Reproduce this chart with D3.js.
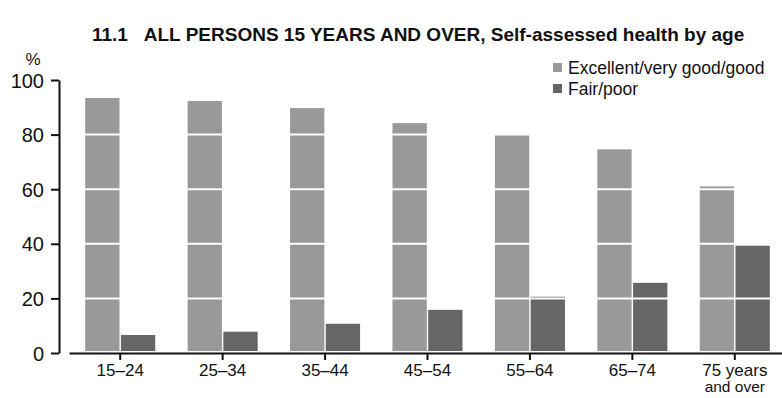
<!DOCTYPE html>
<html>
<head>
<meta charset="utf-8">
<script src="https://cdn.jsdelivr.net/npm/d3@7"></script>
<style>
  body { margin: 0; background: #fff; }
  text { font-family: "Liberation Sans", Arial, sans-serif; fill: #111; }
  .title { font-weight: bold; font-size: 19px; }
  .axis text { font-size: 17px; }
  .yaxis text { font-size: 20px; }
  .legend text { font-size: 17.5px; }
</style>
</head>
<body>
<div id="chart"></div>
<script>
"use strict";

// Data
// ----

var ages = ["15–24", "25–34", "35–44", "45–54", "55–64", "65–74", "75 years\nand over"];
var series = ["Excellent/very good/good", "Fair/poor"];
var good = [93.4, 92.3, 89.7, 84.2, 79.9, 74.6, 61.0];
var fair = [6.6, 7.8, 10.7, 15.8, 20.6, 25.7, 39.3];
var yTicks = [0, 20, 40, 60, 80, 100];

var colors = ["#999999", "#666666"];


// Box sizing
// ----------

var width = 782, height = 398;

var svg = d3.select("#chart").append("svg")
    .attr("width", width)
    .attr("height", height);

var x0 = d3.scaleBand()
    .domain(ages)
    .range([69, 786])
    .paddingInner(0.316)
    .paddingOuter(0.158);

var x1 = d3.scaleBand()
    .domain(series)
    .range([0, x0.bandwidth()])
    .paddingInner(0.04);

var y = d3.scaleLinear()
    .domain([0, 100])
    .range([353, 80]);


// Title

svg.append("text")
    .attr("class", "title")
    .attr("x", 92)
    .attr("y", 41)
    .text("11.1\u00a0\u00a0\u00a0ALL PERSONS 15 YEARS AND OVER, Self-assessed health by age");


// Bars
// ----

var rows = ages.map(function(a, i) {
  return {age: a, values: [good[i], fair[i]]};
});

svg.append("g").selectAll("g")
    .data(rows)
  .enter().append("g")
    .attr("transform", function(d) { return "translate(" + x0(d.age) + ",0)"; })
  .selectAll("rect")
    .data(function(d) { return d.values.map(function(v, j) { return {key: series[j], v: v, j: j}; }); })
  .enter().append("rect")
    .attr("x", function(d) { return x1(d.key); })
    .attr("width", x1.bandwidth())
    .attr("y", function(d) { return y(d.v); })
    .attr("height", function(d) { return y(0) - 2 - y(d.v); })
    .attr("fill", function(d) { return colors[d.j]; });


// White gridlines over the bars

svg.append("g").selectAll("line")
    .data(yTicks.filter(function(t) { return t > 0 && t < 100; }))
  .enter().append("line")
    .attr("x1", 70)
    .attr("x2", width)
    .attr("y1", function(d) { return y(d); })
    .attr("y2", function(d) { return y(d); })
    .attr("stroke", "#fff")
    .attr("stroke-width", 2);


// Axes
// ----

var yAxis = svg.append("g")
    .attr("class", "axis yaxis")
    .attr("transform", "translate(59,0)")
    .call(d3.axisLeft(y).tickValues(yTicks).tickSize(8).tickSizeOuter(0).tickPadding(7));

yAxis.selectAll("path, line").attr("stroke", "#111").attr("stroke-width", 2);
yAxis.selectAll("text").attr("dy", "0.35em");

var xAxis = svg.append("g")
    .attr("class", "axis")
    .attr("transform", "translate(0," + y(0) + ")")
    .call(d3.axisBottom(x0).tickSize(7).tickSizeOuter(0).tickPadding(4).tickFormat(""));

xAxis.selectAll("path, line").attr("stroke", "#111").attr("stroke-width", 2);

xAxis.selectAll(".tick").append("text")
    .attr("fill", "#111")
    .attr("text-anchor", "middle")
    .attr("y", 23)
    .selectAll("tspan")
    .data(function(d) { return d.split("\n"); })
  .enter().append("tspan")
    .attr("x", 0)
    .attr("dy", function(d, i) { return i ? "1em" : 0; })
    .style("font-size", function(d, i) { return i ? "15.5px" : null; })
    .text(function(d) { return d; });

svg.append("text")
    .attr("x", 33)
    .attr("y", 65)
    .attr("text-anchor", "middle")
    .style("font-size", "17px")
    .text("%");


// Legend
// ------

var legend = svg.append("g")
    .attr("class", "legend")
    .selectAll("g")
    .data(series)
  .enter().append("g")
    .attr("transform", function(d, i) { return "translate(553," + (68 + i * 21) + ")"; });

legend.append("rect")
    .attr("x", 0)
    .attr("y", -5)
    .attr("width", 9)
    .attr("height", 9)
    .attr("fill", function(d, i) { return colors[i]; });

legend.append("text")
    .attr("x", 15)
    .attr("dy", "0.35em")
    .text(function(d) { return d; });

</script>
</body>
</html>
